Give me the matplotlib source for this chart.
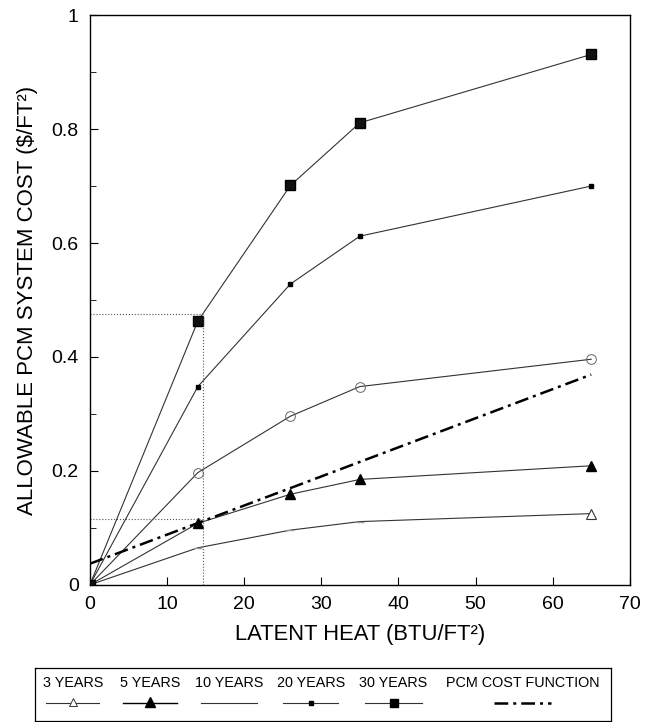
import matplotlib
matplotlib.use('Agg')
import matplotlib.pyplot as plt
from matplotlib import font_manager

# data
latent_heat = [0, 14, 26, 35, 65]
cost_3yr = [0, 0.065, 0.096, 0.111, 0.125]
cost_5yr = [0, 0.108, 0.159, 0.185, 0.209]
cost_10yr = [0, 0.197, 0.296, 0.348, 0.396]
cost_20yr = [0, 0.348, 0.528, 0.612, 0.700]
cost_30yr = [0, 0.463, 0.701, 0.811, 0.931]
pcm_x = [0, 65]
pcm_cost = [0.037, 0.369]

# dotted guide lines
guide_x = 14.7
guide_hi = 0.475
guide_lo = 0.115

legend_labels = ['3 YEARS', '5 YEARS', '10 YEARS', '20 YEARS', '30 YEARS', 'PCM COST FUNCTION']

names = {f.name for f in font_manager.fontManager.ttflist}
narrow = 'Liberation Sans Narrow' in names
print('narrow font:', narrow)
if narrow:
    fam = ['Liberation Sans Narrow', 'DejaVu Sans']
    k = 1.2
else:
    fam = ['Liberation Sans', 'DejaVu Sans']
    k = 1.0
plt.rcParams['font.family'] = fam

fig = plt.figure(figsize=(6.56, 7.22), dpi=100)
ax = fig.add_axes([0.137, 0.190, 0.823, 0.789])

lc = '#333333'
ax.plot(latent_heat, cost_3yr, '-', color=lc, lw=0.8, marker='^', ms=7,
        mfc='white', mec=lc, mew=0.8, markevery=[4])
ax.plot(latent_heat, cost_3yr, ' ', marker='_', ms=6, color='#999999', markevery=[1, 2, 3])
ax.plot(latent_heat, cost_5yr, '-', color=lc, lw=0.8, marker='^', ms=7.5,
        mfc='black', mec='black')
ax.plot(latent_heat, cost_10yr, '-', color=lc, lw=0.8, marker='o', ms=7,
        mfc='none', mec='#666666', mew=0.7, markevery=[1, 2, 3, 4])
ax.plot(latent_heat, cost_20yr, '-', color=lc, lw=0.8, marker='s', ms=2.5,
        mfc='black', mec='black')
ax.plot(latent_heat, cost_30yr, '-', color=lc, lw=0.8, marker='s', ms=6.5,
        mfc='#111111', mec='black')
ax.plot(pcm_x, pcm_cost, color='black', lw=1.8, dashes=[5.5, 2, 1.2, 2])

# guide lines
ax.plot([0, guide_x], [guide_hi, guide_hi], ':', color='#555555', lw=0.8)
ax.plot([0, guide_x], [guide_lo, guide_lo], ':', color='#555555', lw=0.8)
ax.plot([guide_x, guide_x], [0, guide_hi], ':', color='#555555', lw=0.8)

ax.set_xlim(0, 70)
ax.set_ylim(0, 1)
ax.set_xticks([0, 10, 20, 30, 40, 50, 60, 70])
ax.set_xticklabels(['0', '10', '20', '30', '40', '50', '60', '70'])
ax.set_yticks([0, 0.2, 0.4, 0.6, 0.8, 1.0])
ax.set_yticklabels(['0', '0.2', '0.4', '0.6', '0.8', '1'])
ax.set_yticks([0.1, 0.3, 0.5, 0.7, 0.9], minor=True)
ax.tick_params(direction='in', length=6, width=0.8, labelsize=14 * k, pad=8)
ax.tick_params(which='minor', direction='in', length=4, width=0.6)
for s in ax.spines.values():
    s.set_linewidth(1.0)
ax.set_xlabel('LATENT HEAT (BTU/FT²)', fontsize=15.8 * k, labelpad=8)
ax.set_ylabel('ALLOWABLE PCM SYSTEM COST ($/FT²)', fontsize=16 * k, labelpad=10)

# legend box drawn as its own axes
lax = fig.add_axes([0.053, 0.002, 0.878, 0.073])
lax.set_xlim(0, 1)
lax.set_ylim(0, 1)
lax.set_xticks([])
lax.set_yticks([])
for s in lax.spines.values():
    s.set_linewidth(0.9)
centers = [0.066, 0.20, 0.337, 0.479, 0.623, 0.847]
halfw = [0.046, 0.047, 0.048, 0.048, 0.049, 0.049]
ly = 0.33
for i, lab in enumerate(legend_labels):
    lax.text(centers[i], 0.72, lab, ha='center', va='center', fontsize=10.4 * k)
    c, w = centers[i], halfw[i]
    if i == 0:
        lax.plot([c - w, c + w], [ly, ly], color=lc, lw=0.8)
        lax.plot([c], [ly + 0.03], marker='^', ms=6, mfc='white', mec=lc, mew=0.7)
    elif i == 1:
        lax.plot([c - w, c + w], [ly, ly], color='black', lw=1.0)
        lax.plot([c], [ly + 0.03], marker='^', ms=6.5, color='black')
    elif i == 2:
        lax.plot([c - w, c + w], [ly, ly], color=lc, lw=0.8)
    elif i == 3:
        lax.plot([c - w, c + w], [ly, ly], color=lc, lw=0.8)
        lax.plot([c], [ly], marker='s', ms=2.5, color='black')
    elif i == 4:
        lax.plot([c - w, c + w], [ly, ly], color=lc, lw=0.8)
        lax.plot([c], [ly], marker='s', ms=6, color='black')
    else:
        lax.plot([c - w, c + w], [ly, ly], color='black', lw=1.8,
                 dashes=[5.5, 2, 1.2, 2])

fig.savefig('out.png', dpi=100)
